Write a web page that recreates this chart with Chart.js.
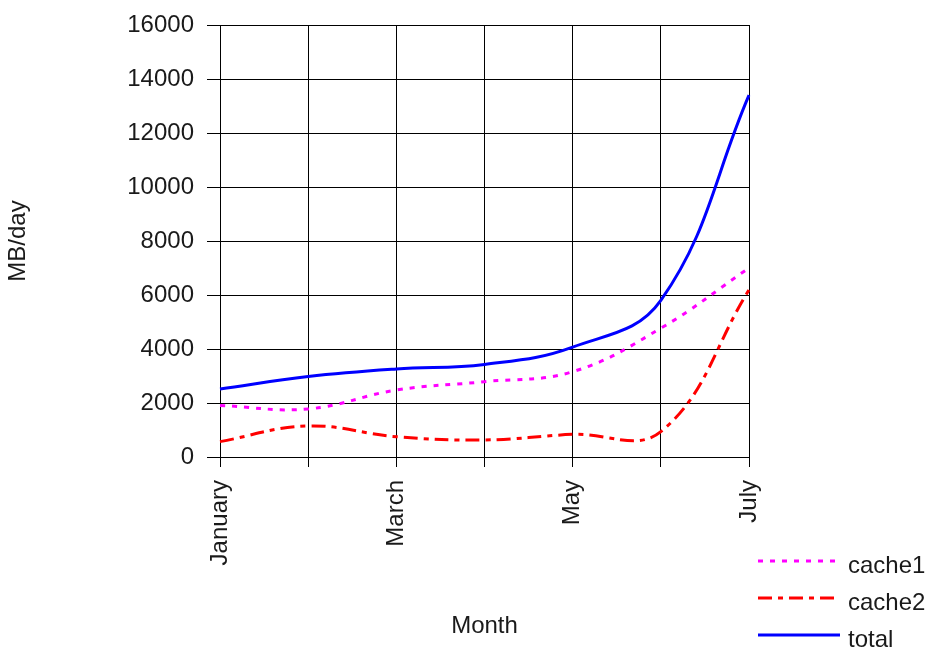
<!DOCTYPE html>
<html>
<head>
<meta charset="utf-8">
<script src="https://cdn.jsdelivr.net/npm/chart.js@4.4.1/dist/chart.umd.min.js"></script>
<style>
  html, body { margin: 0; padding: 0; background: #fff; }
  #wrap { position: relative; width: 933px; height: 650px; }
  #legend { position: absolute; left: 758px; top: 546px; font-family: "Liberation Sans", Arial, sans-serif; font-size: 24px; color: #1a1a1a; }
  #legend .row { display: flex; align-items: center; height: 37px; }
  #legend svg { width: 82px; height: 8px; margin-right: 8px; margin-bottom: 7px; }
</style>
</head>
<body>
<div id="wrap">
  <canvas id="chart" width="933" height="650"></canvas>
  <div id="legend"></div>
</div>
<script>
const months = ["January", "February", "March", "April", "May", "June", "July"];
const cache1 = [1910, 1780, 2480, 2790, 3160, 4770, 7000];
const cache2 = [570, 1150, 750, 630, 840, 940, 6190];
const total = [2520, 2980, 3260, 3430, 4070, 5800, 13400];

const series = [
  { label: "cache1", data: cache1, color: "#ff00ff", dash: [5, 7] },
  { label: "cache2", data: cache2, color: "#ff0000", dash: [14, 6, 5, 6] },
  { label: "total", data: total, color: "#0000ff", dash: [] }
];

const font = { family: "'Liberation Sans', Arial, sans-serif", size: 24 };
const textColor = "#1a1a1a";

new Chart(document.getElementById("chart").getContext("2d"), {
  type: "line",
  data: {
    labels: months,
    datasets: series.map(s => ({
      label: s.label,
      data: s.data,
      borderColor: s.color,
      borderDash: s.dash,
      borderWidth: 3,
      pointRadius: 0,
      tension: 0.4,
      fill: false
    }))
  },
  options: {
    responsive: false,
    animation: false,
    layout: { padding: { left: 0, right: 184, top: 25, bottom: 0 } },
    plugins: { legend: { display: false }, tooltip: { enabled: false } },
    scales: {
      x: {
        offset: false,
        grid: { color: "#000", lineWidth: 1, tickLength: 10 },
        border: { color: "#000", width: 1 },
        ticks: {
          color: textColor, font, padding: 13,
          autoSkip: false, minRotation: 90, maxRotation: 90,
          callback: (v, i) => (i % 2 === 0 ? months[i] : "")
        },
        title: { display: true, text: "Month", color: textColor, font, padding: { bottom: 9 } },
        afterFit: scale => { scale.height = 193; scale.paddingTop = 0; scale.paddingBottom = 0; }
      },
      y: {
        min: 0, max: 16000,
        grid: { color: "#000", lineWidth: 1, tickLength: 13 },
        border: { color: "#000", width: 1 },
        ticks: { stepSize: 2000, color: textColor, font, padding: 13, callback: v => String(v) },
        title: { display: true, text: "MB/day", color: textColor, font, padding: { top: 4 } },
        afterFit: scale => { scale.width = 220; scale.paddingTop = 0; scale.paddingBottom = 0; }
      }
    }
  }
});

const legend = document.getElementById("legend");
series.forEach(s => {
  const row = document.createElement("div");
  row.className = "row";
  row.innerHTML = `<svg viewBox="0 0 82 8"><line x1="0" y1="4" x2="82" y2="4" stroke="${s.color}" stroke-width="3" stroke-dasharray="${s.dash.join(" ") || "none"}"/></svg><span>${s.label}</span>`;
  legend.appendChild(row);
});
</script>
</body>
</html>
